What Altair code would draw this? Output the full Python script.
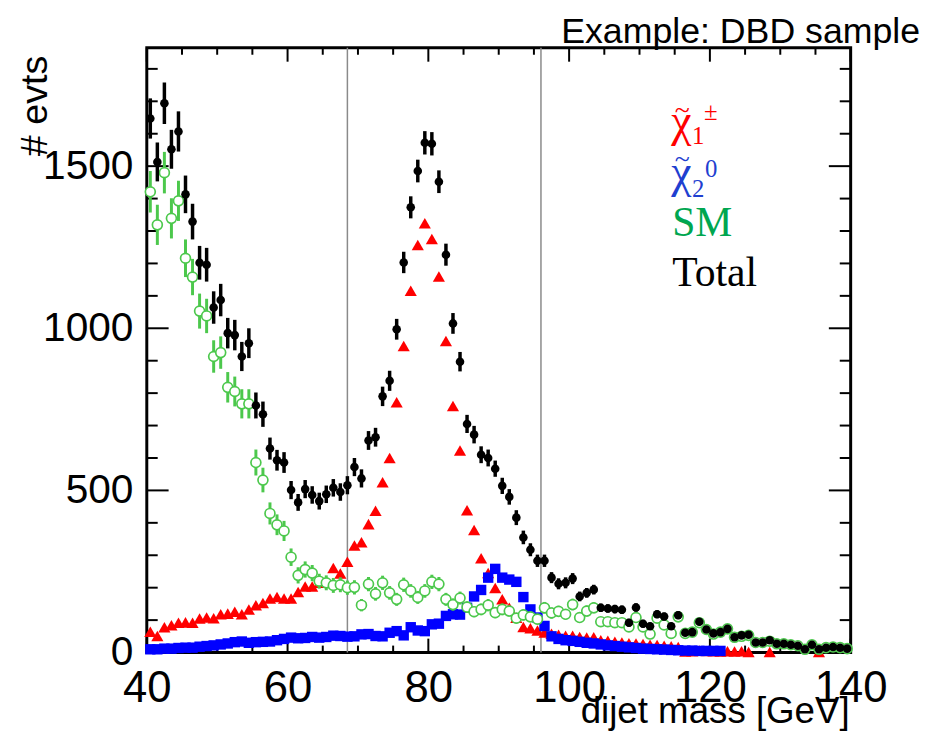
import altair as alt
import pandas as pd

# bin centres, 1 GeV bins from 40 to 140
bins = [40.5 + i for i in range(100)]

total = [1647, 1513, 1694, 1552, 1607, 1413, 1329, 1202, 1196, 1064,
         1087, 985, 979, 913, 954, 762, 735, 629, 593, 586,
         501, 463, 504, 486, 467, 488, 508, 495, 516, 572,
         537, 654, 664, 790, 838, 997, 1203, 1373, 1485, 1572,
         1569, 1452, 1227, 1015, 897, 705, 672, 610, 600, 567,
         514, 480, 416, 355, 317, 283, 283, 231, 212, 215,
         228, 173, 184, 194, 138, 136, 134, 132, 92, 139,
         89, 81, 118, 111, 81, 115, 61, 63, 95, 71,
         59, 63, 73, 47, 53, 55, 31, 31, 38, 27,
         27, 24, 21, 10, 24, 10, 15, 17, 15, 12]
total_err = [62, 60, 64, 60, 62, 58, 55, 52, 52, 50,
             50, 47, 47, 45, 46, 40, 39, 34, 32, 32,
             28, 26, 28, 27, 26, 27, 27, 27, 28, 28,
             28, 29, 29, 30, 31, 32, 33, 34, 35, 36,
             36, 35, 34, 32, 30, 28, 27, 26, 26, 25,
             25, 24, 23, 21, 20, 19, 19, 17, 17, 17,
             17, 15, 15, 15, 13, 13, 13, 13, 12, 13,
             12, 11, 12, 12, 11, 12, 10, 10, 11, 10,
             9, 9, 10, 8, 8, 8, 7, 7, 7, 6,
             6, 6, 5, 4, 6, 4, 5, 5, 5, 4]

sm = [1421, 1319, 1480, 1339, 1393, 1216, 1158, 1053, 1038, 913,
      925, 818, 805, 767, 767, 586, 532, 429, 394, 375,
      294, 238, 256, 245, 220, 215, 207, 209, 200, 201,
      146, 211, 181, 215, 184, 164, 209, 190, 170, 190,
      218, 211, 164, 148, 168, 140, 126, 133, 146, 123,
      133, 128, 106, 116, 110, 103, 138, 122, 127, 118,
      148, 108, 128, 138, 95, 95, 92, 92, 79, 108,
      79, 57, 106, 85, 59, 110, 59, 63, 92, 71,
      57, 63, 73, 47, 50, 53, 31, 31, 35, 27,
      27, 24, 21, 10, 24, 10, 15, 17, 15, 12]
sm_err = [64, 62, 64, 62, 62, 58, 56, 54, 53, 50,
          50, 47, 46, 45, 45, 40, 38, 34, 32, 31,
          27, 25, 25, 25, 23, 23, 23, 23, 22, 22,
          19, 22, 21, 22, 21, 20, 22, 21, 20, 21,
          22, 22, 20, 19, 20, 18, 17, 18, 19, 17,
          18, 17, 16, 17, 16, 16, 18, 17, 17, 16,
          18, 15, 17, 17, 14, 14, 14, 14, 13, 15,
          13, 11, 15, 13, 11, 15, 11, 12, 14, 12,
          11, 12, 12, 10, 10, 10, 8, 8, 9, 7,
          7, 7, 7, 5, 7, 5, 6, 6, 6, 5]

chargino = [64, 51, 78, 84, 92, 93, 92, 105, 108, 106,
            118, 120, 126, 118, 133, 146, 153, 167, 171, 167,
            167, 187, 204, 204, 215, 218, 261, 244, 280, 330,
            340, 396, 437, 525, 600, 772, 945, 1116, 1257, 1324,
            1275, 1160, 961, 760, 623, 439, 378, 291, 245, 199,
            164, 138, 107, 79, 75, 68, 62, 58, 55, 52,
            52, 48, 46, 47, 38, 36, 33, 31, 29, 28,
            26, 24, 23, 21, 19, 17, 3, 4, 6, 5,
            4, 3, 4, 3, 4, 2, None, None, 2, None,
            None, None, None, None, None, 2, None, None, None, None]

neutralino = [10, 10, 12, 12, 14, 15, 15, 18, 20, 22,
              25, 28, 32, 34, 30, 32, 33, 34, 38, 42,
              46, 44, 45, 48, 46, 48, 52, 51, 49, 50,
              56, 57, 51, 50, 61, 66, 53, 78, 68, 66,
              87, 89, 113, 118, 117, 138, 173, 193, 231, 258,
              231, 225, 218, 171, 133, 108, 82, 50, 42, 38,
              36, 33, 30, 28, 25, 22, 20, 18, 16, 14,
              12, 11, 10, 9, 8, 7, 6, 6, 5, 5,
              5, 5, None, None, None, None, None, None, None, None,
              None, None, None, None, None, None, None, None, None, None]

cut_lines = [68.5, 96.0]
x_labels = [40, 60, 80, 100, 120, 140]
x_minor = [v for v in range(45, 140, 5) if v % 20 != 0]
y_labels = [0, 500, 1000, 1500]
y_minor = [v for v in range(100, 1900, 100) if v % 500 != 0]

W, H = 710, 610
GREEN = "#4cc84c"

xscale = alt.Scale(domain=[40, 140], nice=False, zero=False)
yscale = alt.Scale(domain=[0, 1865], nice=False, zero=True)
xaxis = alt.Axis(values=x_labels, title=None, ticks=False, domain=False, grid=False,
                 format="d",
                 labelFont="Liberation Sans", labelFontSize=44, labelColor="black",
                 labelPadding=14, labelFlush=False, labelOverlap=False)
yaxis = alt.Axis(values=y_labels, title=None, ticks=False, domain=False, grid=False,
                 format="d",
                 labelFont="Liberation Sans", labelFontSize=41, labelColor="black",
                 labelPadding=14, labelFlush=False, labelOverlap=False)


def X(f):
    return alt.X(f, type="quantitative", scale=xscale, axis=xaxis)


def Y(f):
    return alt.Y(f, type="quantitative", scale=yscale, axis=yaxis)


def series(vals, errs=None):
    rows = []
    for i, b in enumerate(bins):
        v = vals[i]
        if v is None:
            continue
        r = {"x": b, "y": v}
        if errs is not None:
            r["lo"] = max(v - errs[i], 0)
            r["hi"] = v + errs[i]
        rows.append(r)
    return pd.DataFrame(rows)


df_tot = series(total, total_err)
df_sm = series(sm, sm_err)
df_ch = series(chargino)
df_ne = series(neutralino)

layers = []

# cut lines
layers.append(alt.Chart(pd.DataFrame({"x": cut_lines})).mark_rule(
    color="#8a8a8a", strokeWidth=1.5).encode(x=X("x")))

# inward ticks (bottom / top / left / right)
dxM = pd.DataFrame({"x": x_labels})
dxm = pd.DataFrame({"x": x_minor})
dyM = pd.DataFrame({"y": y_labels})
dym = pd.DataFrame({"y": y_minor})
for d, ln in ((dxM, 14), (dxm, 7)):
    layers.append(alt.Chart(d).mark_rule(color="black", strokeWidth=2).encode(
        x=X("x"), y=alt.value(H), y2=alt.value(H - ln)))
    layers.append(alt.Chart(d).mark_rule(color="black", strokeWidth=2).encode(
        x=X("x"), y=alt.value(0), y2=alt.value(ln)))
for d, ln in ((dyM, 22), (dym, 11)):
    layers.append(alt.Chart(d).mark_rule(color="black", strokeWidth=2).encode(
        y=Y("y"), x=alt.value(0), x2=alt.value(ln)))
    layers.append(alt.Chart(d).mark_rule(color="black", strokeWidth=2).encode(
        y=Y("y"), x=alt.value(W), x2=alt.value(W - ln)))

# chargino (red triangles)
layers.append(alt.Chart(df_ch).mark_point(shape="triangle-up", filled=True, color="#ff0000",
                                          size=150, opacity=1).encode(x=X("x"), y=Y("y")))
# neutralino (blue squares)
layers.append(alt.Chart(df_ne).mark_point(shape="square", filled=True, color="#0000ff",
                                          size=110, opacity=1).encode(x=X("x"), y=Y("y")))
# SM (green open circles with error bars)
layers.append(alt.Chart(df_sm).mark_rule(color=GREEN, strokeWidth=3).encode(
    x=X("x"), y=Y("lo"), y2="hi"))
layers.append(alt.Chart(df_sm).mark_point(shape="circle", filled=True, fill="white",
                                          stroke=GREEN, strokeWidth=1.7, size=100,
                                          opacity=1, fillOpacity=1).encode(x=X("x"), y=Y("y")))
# Total (black points with error bars)
layers.append(alt.Chart(df_tot).mark_rule(color="black", strokeWidth=3.5).encode(
    x=X("x"), y=Y("lo"), y2="hi"))
layers.append(alt.Chart(df_tot).mark_circle(color="black", size=75, opacity=1).encode(
    x=X("x"), y=Y("y")))

one = pd.DataFrame({"a": [0]})


def txt(text, x, y, size, color="black", font="Liberation Sans", align="left",
        baseline="alphabetic", angle=0):
    kw = dict(text=text, font=font, fontSize=size, color=color, align=align,
              baseline=baseline)
    if angle:
        kw["angle"] = angle
    return alt.Chart(one).mark_text(**kw).encode(x=alt.value(x), y=alt.value(y))


# titles
layers.append(txt("Example: DBD sample", 780, -5, 36, align="right"))
layers.append(txt("dijet mass [GeV]", 709, 681, 37, align="right"))
layers.append(txt("# evts", -112, 8, 38, align="right", baseline="middle", angle=270))

# legend (text-only, ROOT style)
SERIF = "Liberation Serif"
RED, BLUE, LGREEN = "#ff0000", "#1f3fd0", "#00a650"
layers.append(txt("\u03c7", 529, 89, 46, color=RED, font=SERIF))
layers.append(txt("~", 540, 72, 28, color=RED, font=SERIF, align="center"))
layers.append(txt("1", 550, 97, 25, color=RED, font=SERIF))
layers.append(txt("\u00b1", 562, 73, 25, color=RED, font=SERIF))
layers.append(txt("\u03c7", 529, 140, 46, color=BLUE, font=SERIF))
layers.append(txt("~", 540, 121, 28, color=BLUE, font=SERIF, align="center"))
layers.append(txt("2", 550, 150, 25, color=BLUE, font=SERIF))
layers.append(txt("0", 563, 130, 25, color=BLUE, font=SERIF))
layers.append(txt("SM", 530, 190, 42, color=LGREEN, font=SERIF))
layers.append(txt("Total", 530, 240, 42, color="black", font=SERIF))

chart = alt.layer(*layers).properties(
    width=W, height=H,
    autosize=alt.AutoSizeParams(type="none"),
    padding={"left": 140, "top": 37, "right": 77, "bottom": 76},
).configure_view(stroke="black", strokeWidth=3)

chart.save("out.html", embed_options={"renderer": "svg", "actions": False})
